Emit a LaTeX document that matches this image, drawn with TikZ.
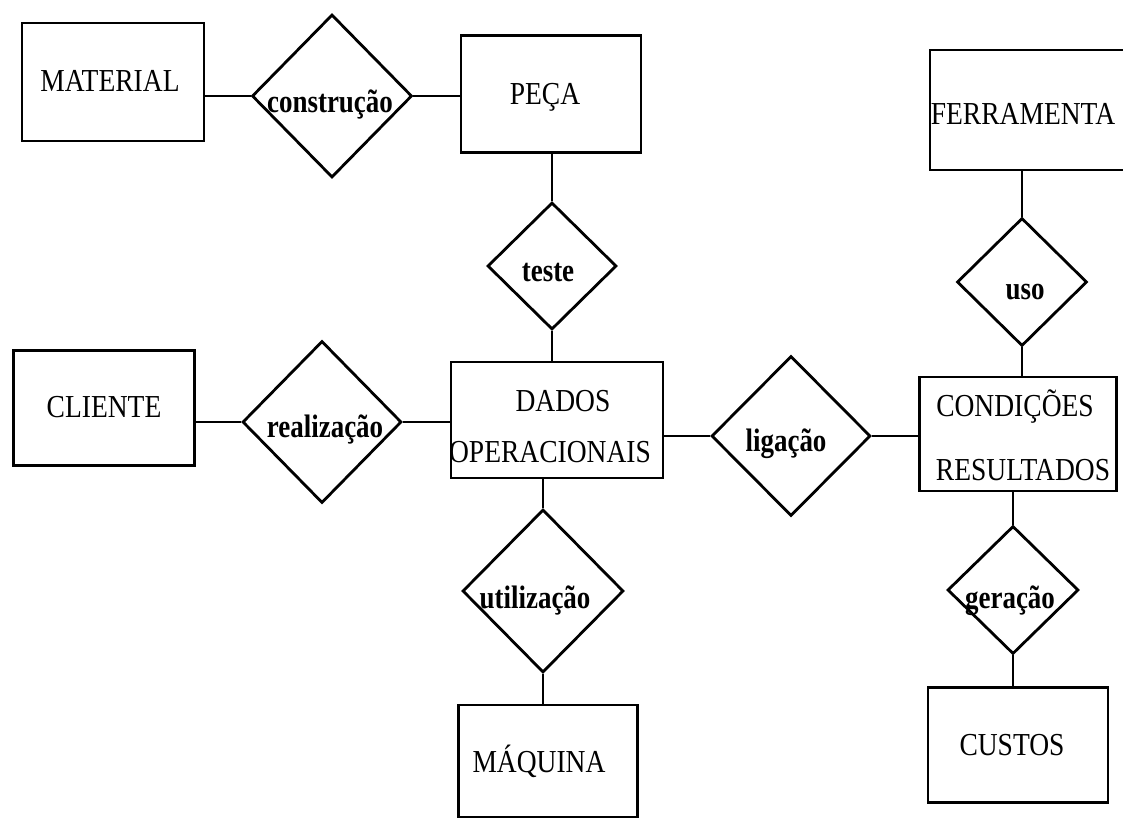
\documentclass[tikz,border=0pt]{standalone}
\usepackage{graphicx}
\usepackage{fontspec}
\setmainfont{Liberation Serif}
% tall, narrow serif faces for entity and relationship names
\newfontfamily\entfont{Liberation Serif}[FakeStretch=0.86]
\newfontfamily\relfont{Liberation Serif Bold}[FakeStretch=0.83]
\usetikzlibrary{shapes.geometric}

\tikzset{
  entity/.style={draw, line width=2.8pt, rectangle, inner sep=0pt},
  relation/.style={draw, line width=2.8pt, diamond, inner sep=0pt},
  enttext/.style={anchor=base, inner sep=0pt, font=\entfont\fontsize{32}{34}\selectfont},
  reltext/.style={anchor=base, inner sep=0pt, font=\relfont\fontsize{32.5}{34}\selectfont},
  link/.style={line width=2.8pt},
}

\begin{document}
\begin{tikzpicture}[x=1pt, y=-1pt]
  \useasboundingbox (0,0) rectangle (1123,819);

  % entities (boxes)
  \node[entity, minimum width=182pt, minimum height=118pt] (material) at (113,82) {};
  \node[entity, minimum width=180pt, minimum height=117pt] (peca) at (551,94) {};
  \node[entity, minimum width=210pt, minimum height=120pt] (ferr) at (1035,110) {};
  \node[entity, minimum width=181pt, minimum height=115pt] (cliente) at (104,408) {};
  \node[entity, minimum width=212pt, minimum height=116pt] (dados) at (557,420) {};
  \node[entity, minimum width=197pt, minimum height=114pt] (cond) at (1018,434) {};
  \node[entity, minimum width=179pt, minimum height=112pt] (maquina) at (548,761) {};
  \node[entity, minimum width=180pt, minimum height=115pt] (custos) at (1018,745) {};

  % entity names
  \node[enttext] (materialT) at (110,91) {MATERIAL};
  \node[enttext] (pecaT) at (545,104) {PEÇA};
  \node[enttext] (ferrT) at (1023,124) {FERRAMENTA};
  \node[enttext] (clienteT) at (104,417) {CLIENTE};
  \node[enttext] (dadosT1) at (563,411) {DADOS};
  \node[enttext] (dadosT2) at (550,462) {OPERACIONAIS};
  \node[enttext] (condT1) at (1015,416) {CONDIÇÕES};
  \node[enttext] (condT2) at (1023,480) {RESULTADOS};
  \node[enttext] (maquinaT) at (539,772) {MÁQUINA};
  \node[enttext] (custosT) at (1012,755) {CUSTOS};

  % relationships (diamonds)
  \node[relation, minimum width=160pt, minimum height=163pt] (constr) at (332,96) {};
  \node[relation, minimum width=129pt, minimum height=127pt] (teste) at (552,266) {};
  \node[relation, minimum width=130pt, minimum height=128pt] (uso) at (1022,282) {};
  \node[relation, minimum width=159pt, minimum height=162pt] (real) at (322,422) {};
  \node[relation, minimum width=159pt, minimum height=160pt] (lig) at (791,436) {};
  \node[relation, minimum width=161pt, minimum height=163pt] (util) at (543,591) {};
  \node[relation, minimum width=131pt, minimum height=128pt] (ger) at (1013,590) {};

  % relationship names
  \node[reltext] (constrT) at (330,112) {construção};
  \node[reltext] (testeT) at (548,281) {teste};
  \node[reltext] (usoT) at (1025,299) {uso};
  \node[reltext] (realT) at (325,437) {realização};
  \node[reltext] (ligT) at (786,451) {ligação};
  \node[reltext] (utilT) at (535,608) {utilização};
  \node[reltext] (gerT) at (1010,608) {geração};

  % connectors
  \draw[link] (material.east |- constr.west) -- (constr.west);
  \draw[link] (constr.east) -- (constr.east -| peca.west);
  \draw[link] (teste.north |- peca.south) -- (teste.north);
  \draw[link] (teste.south) -- (teste.south |- dados.north);
  \draw[link] (cliente.east |- real.west) -- (real.west);
  \draw[link] (real.east) -- (real.east -| dados.west);
  \draw[link] (dados.east |- lig.west) -- (lig.west);
  \draw[link] (lig.east) -- (lig.east -| cond.west);
  \draw[link] (uso.north |- ferr.south) -- (uso.north);
  \draw[link] (uso.south) -- (uso.south |- cond.north);
  \draw[link] (ger.north |- cond.south) -- (ger.north);
  \draw[link] (ger.south) -- (ger.south |- custos.north);
  \draw[link] (util.north |- dados.south) -- (util.north);
  \draw[link] (util.south) -- (util.south |- maquina.north);
\end{tikzpicture}
\end{document}
